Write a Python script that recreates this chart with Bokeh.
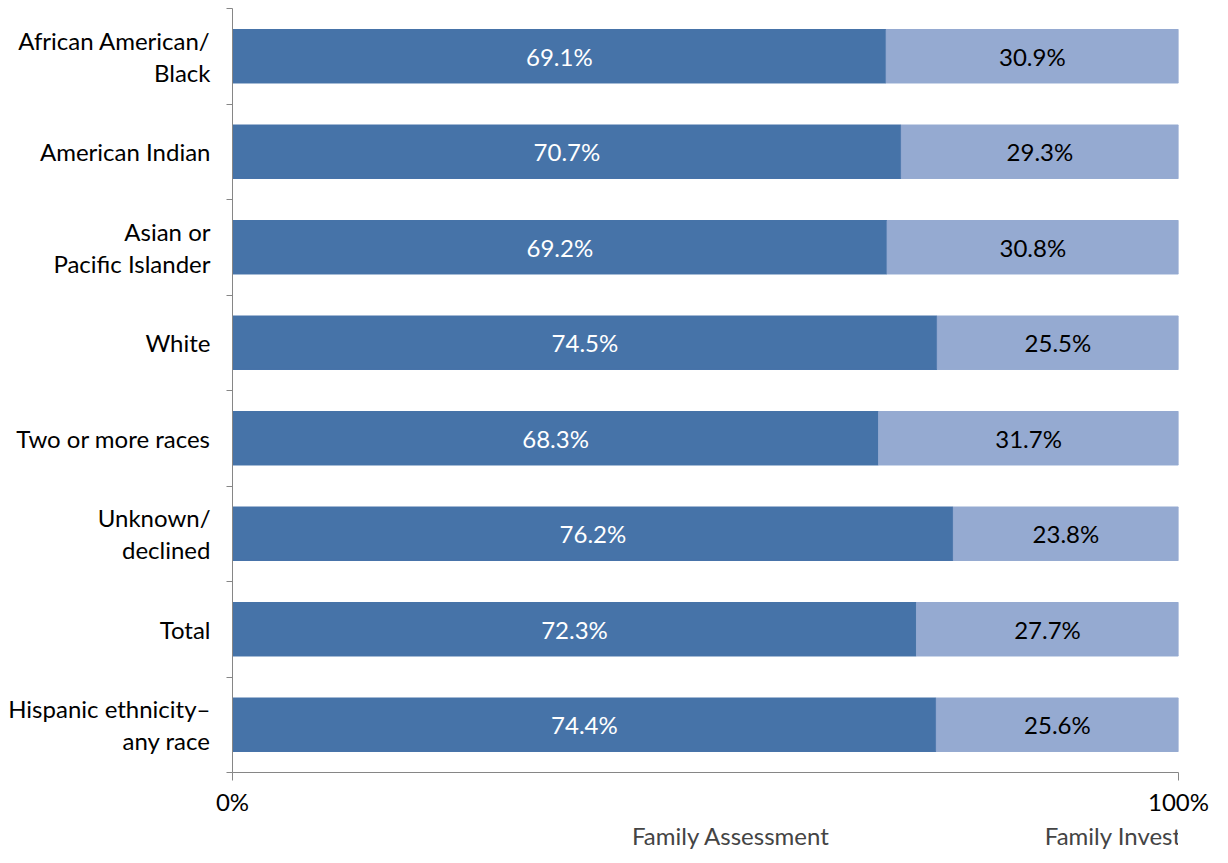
from bokeh.plotting import figure
from bokeh.layouts import column
from bokeh.models import Range1d, FixedTicker, ColumnDataSource, Legend, LegendItem
from bokeh.embed import file_html
from bokeh.resources import INLINE
from bokeh.core.properties import value

categories = ["African American/\nBlack", "American Indian", "Asian or\nPacific Islander", "White",
              "Two or more races", "Unknown/\ndeclined", "Total", "Hispanic ethnicity\u2013\nany race"]
assessment = [69.1, 70.7, 69.2, 74.5, 68.3, 76.2, 72.3, 74.4]
investigation = [30.9, 29.3, 30.8, 25.5, 31.7, 23.8, 27.7, 25.6]
series_names = ["Family Assessment", "Family Investigation"]
x_ticks = [0, 100]
x_tick_labels = ["0%", "100%"]

DARK = "#4673A8"
LIGHT = "#95AAD1"
AXIS = "#868686"
FONT = "Lato"
FS = "24px"

n = len(categories)
ypos = [n - i - 0.5 for i in range(n)]
src = ColumnDataSource(dict(
    y=ypos, a=assessment, b=investigation,
    a_mid=[v / 2 for v in assessment],
    b_mid=[a + b / 2 for a, b in zip(assessment, investigation)],
    a_lab=[f"{v:.1f}%" for v in assessment],
    b_lab=[f"{v:.1f}%" for v in investigation],
))

p = figure(frame_width=946, frame_height=764, x_range=Range1d(0, 100), y_range=Range1d(0, n),
           output_backend="svg", toolbar_location=None,
           min_border_left=232, min_border_right=34, min_border_top=8, min_border_bottom=0)

rs = p.hbar_stack(["a", "b"], y="y", height=0.56, color=[DARK, LIGHT], source=src)

p.text(x="a_mid", y="y", text="a_lab", text_align="center", text_baseline="middle",
       text_color="white", text_font=value(FONT), text_font_size=FS, source=src)
p.text(x="b_mid", y="y", text="b_lab", text_align="center", text_baseline="middle",
       text_color="black", text_font=value(FONT), text_font_size=FS, source=src)

p.xgrid.visible = False
p.ygrid.visible = False
p.outline_line_color = None

ya = p.yaxis[0]
ya.ticker = FixedTicker(ticks=ypos, minor_ticks=list(range(n + 1)))
ya.major_label_overrides = {y: c for y, c in zip(ypos, categories)}
ya.major_tick_out = 0
ya.major_tick_in = 0
ya.minor_tick_out = 6
ya.minor_tick_in = 0
ya.minor_tick_line_color = AXIS
ya.axis_line_color = AXIS
ya.major_label_standoff = 16
ya.major_label_text_font = FONT
ya.major_label_text_font_size = FS
ya.major_label_text_color = "black"
ya.major_label_text_line_height = 1.1

xa = p.xaxis[0]
xa.ticker = FixedTicker(ticks=x_ticks, minor_ticks=[])
xa.major_label_overrides = {t: l for t, l in zip(x_ticks, x_tick_labels)}
xa.major_tick_out = 8
xa.major_tick_in = 0
xa.major_tick_line_color = AXIS
xa.axis_line_color = AXIS
xa.major_label_standoff = 6
xa.major_label_text_font = FONT
xa.major_label_text_font_size = FS
xa.major_label_text_color = "black"

# Legend strip below the chart (separate figure so the legend is not clipped)
p2 = figure(width=1212, height=34, x_range=Range1d(0, 1), y_range=Range1d(0, 1),
            output_backend="svg", toolbar_location=None,
            x_axis_location=None, y_axis_location=None,
            min_border=0, min_border_left=0, min_border_right=0,
            min_border_top=0, min_border_bottom=0)
p2.xgrid.visible = False
p2.ygrid.visible = False
p2.outline_line_color = None
lr = [p2.hbar(y=[], right=[], height=0.5, color=c) for c in (DARK, LIGHT)]

legend = Legend(items=[LegendItem(label=series_names[0], renderers=[lr[0]]),
                       LegendItem(label=series_names[1], renderers=[lr[1]])],
                orientation="horizontal", location=(376, 2),
                border_line_color=None, background_fill_alpha=0,
                glyph_width=15, glyph_height=15, label_height=15,
                label_standoff=9, spacing=192, padding=0, margin=0,
                label_text_font=FONT, label_text_font_size=FS)
p2.add_layout(legend, "center")

layout = column(p, p2, spacing=0)

open("out.html", "w").write(file_html(layout, INLINE))
